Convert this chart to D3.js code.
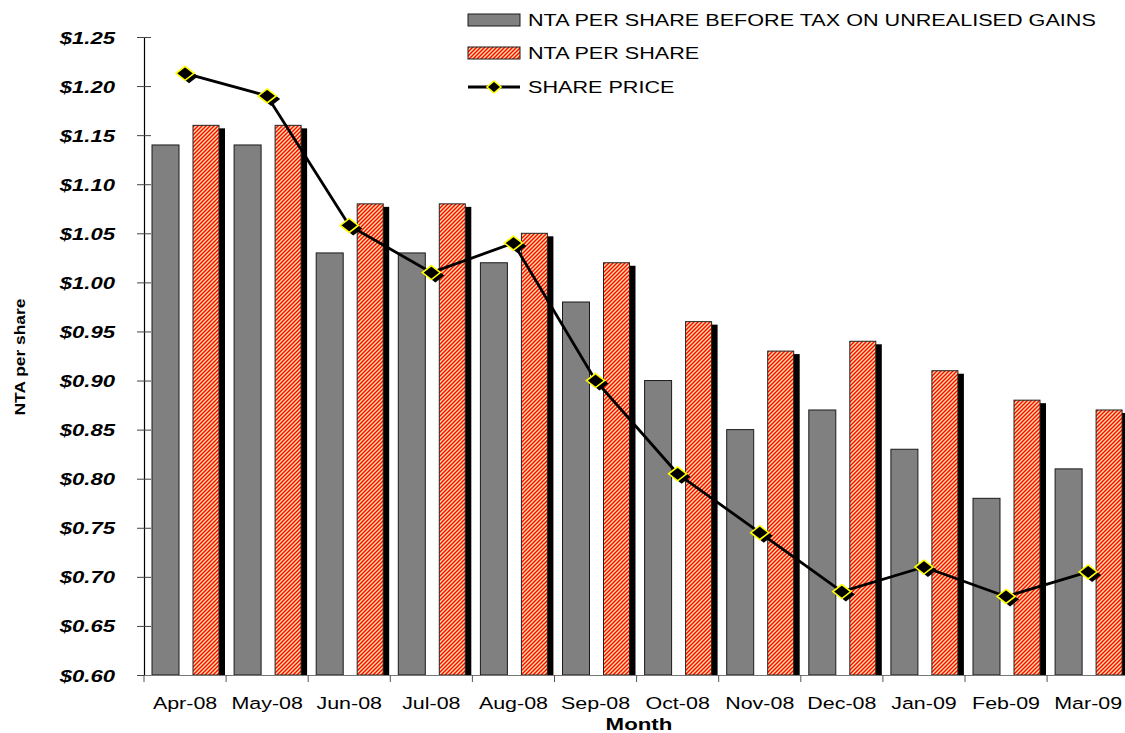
<!DOCTYPE html>
<html>
<head>
<meta charset="utf-8">
<script src="https://cdn.jsdelivr.net/npm/d3@7"></script>
<style>
  html, body { margin: 0; padding: 0; background: #fff; }
  svg { display: block; }
  text { font-family: "Liberation Sans", Arial, sans-serif; fill: #000; }
</style>
</head>
<body>
<svg id="chart" width="1125" height="733"></svg>
<script>
// ---- data ----
const months = ["Apr-08","May-08","Jun-08","Jul-08","Aug-08","Sep-08","Oct-08","Nov-08","Dec-08","Jan-09","Feb-09","Mar-09"];
const ntaBeforeTax = [1.14,1.14,1.03,1.03,1.02,0.98,0.90,0.85,0.87,0.83,0.78,0.81];
const ntaPerShare  = [1.16,1.16,1.08,1.08,1.05,1.02,0.96,0.93,0.94,0.91,0.88,0.87];
const sharePrice   = [1.213,1.19,1.058,1.01,1.04,0.90,0.805,0.745,0.685,0.71,0.68,0.705];
const yTicks = [0.60,0.65,0.70,0.75,0.80,0.85,0.90,0.95,1.00,1.05,1.10,1.15,1.20,1.25];
const seriesNames = ["NTA PER SHARE BEFORE TAX ON UNREALISED GAINS","NTA PER SHARE","SHARE PRICE"];
const xTitle = "Month";
const yTitle = "NTA per share";

// ---- layout ----
const svg = d3.select("#chart");
const plotLeft = 144, plotTop = 37, plotBottom = 675, step = 82.1;
const plotRight = plotLeft + step * months.length;

const x = d3.scaleBand().domain(months).range([plotLeft, plotRight]).paddingInner(0).paddingOuter(0);
const y = d3.scaleLinear().domain([0.60, 1.25]).range([plotBottom, plotTop]);

// pattern for red striped bars
const defs = svg.append("defs");
const pat = defs.append("pattern").attr("id", "stripes")
  .attr("patternUnits", "userSpaceOnUse").attr("width", 4).attr("height", 4);
pat.append("rect").attr("width", 4).attr("height", 4).attr("fill", "#ffe4a8");
pat.append("path").attr("d", "M-1,1 L1,-1 M0,4 L4,0 M3,5 L5,3")
  .attr("stroke", "#ff0a00").attr("stroke-width", 1.5);

// ---- bars ----
const grayOff = 8, grayW = 27, redOff = 49, redW = 26;
svg.append("g").selectAll("rect").data(months).join("rect")
  .attr("x", d => x(d) + grayOff)
  .attr("y", (d, i) => y(ntaBeforeTax[i]))
  .attr("width", grayW)
  .attr("height", (d, i) => y(0.60) - y(ntaBeforeTax[i]))
  .attr("fill", "#808080").attr("stroke", "#1a1a1a").attr("stroke-width", 1);

// shadows of red bars
svg.append("g").selectAll("rect").data(months).join("rect")
  .attr("x", d => x(d) + redOff + 6)
  .attr("y", (d, i) => y(ntaPerShare[i]) + 3)
  .attr("width", redW)
  .attr("height", (d, i) => y(0.60) - y(ntaPerShare[i]) - 3)
  .attr("fill", "#000");

svg.append("g").selectAll("rect").data(months).join("rect")
  .attr("x", d => x(d) + redOff)
  .attr("y", (d, i) => y(ntaPerShare[i]))
  .attr("width", redW)
  .attr("height", (d, i) => y(0.60) - y(ntaPerShare[i]))
  .attr("fill", "url(#stripes)").attr("stroke", "#222").attr("stroke-width", 1);

// ---- axes ----
const yAxis = svg.append("g").attr("transform", `translate(${plotLeft},0)`)
  .call(d3.axisLeft(y).tickValues(yTicks).tickFormat(d3.format("$.2f")).tickSizeOuter(0));
yAxis.select(".domain").attr("stroke", "#000").attr("stroke-width", 1.2);
yAxis.selectAll(".tick line").attr("x1", 7).attr("x2", -7).attr("stroke", "#444");
yAxis.selectAll(".tick text")
  .attr("x", null).attr("dy", null)
  .attr("transform", "translate(-29,6) scale(1.34,1)")
  .attr("text-anchor", "end").attr("fill", "#000")
  .style("font-size", "16.5px").style("font-weight", "bold").style("font-style", "italic");

const xAxis = svg.append("g").attr("transform", `translate(0,${plotBottom})`)
  .call(d3.axisBottom(x).tickSize(0).tickSizeOuter(0));
xAxis.select(".domain").attr("stroke", "#777").attr("stroke-width", 1.2);
xAxis.selectAll(".tick text")
  .attr("y", null).attr("dy", null)
  .attr("transform", "translate(0,34) scale(1.3,1)")
  .attr("text-anchor", "middle").attr("fill", "#000")
  .style("font-size", "16.5px");
// category boundary ticks
svg.append("g").selectAll("line").data(months).join("line")
  .attr("x1", d => x(d)).attr("x2", d => x(d))
  .attr("y1", plotBottom).attr("y2", plotBottom + 7)
  .attr("stroke", "#555").attr("stroke-width", 1);

// axis titles
svg.append("text").attr("transform", `translate(639,730) scale(1.35,1)`)
  .attr("text-anchor", "middle").style("font-size", "16.5px").style("font-weight", "bold")
  .text(xTitle);
svg.append("text").attr("transform", `translate(25,357) rotate(-90) scale(1.2,1)`)
  .attr("text-anchor", "middle").style("font-size", "14.5px").style("font-weight", "bold")
  .text(yTitle);

// ---- share price line ----
const cx = (i) => x(months[i]) + x.bandwidth() / 2;
const line = d3.line().x((d, i) => cx(i)).y(d => y(d));
svg.append("path").datum(sharePrice).attr("d", line)
  .attr("fill", "none").attr("stroke", "#000").attr("stroke-width", 2.8)
  .attr("stroke-linejoin", "round");

const diamond = (hw, hh) => `M0,${-hh} L${hw},0 L0,${hh} L${-hw},0 Z`;
svg.append("g").selectAll("path").data(sharePrice).join("path")
  .attr("transform", (d, i) => `translate(${cx(i) + 4},${y(d) + 3})`)
  .attr("d", diamond(9, 7)).attr("fill", "#000");
svg.append("g").selectAll("path").data(sharePrice).join("path")
  .attr("transform", (d, i) => `translate(${cx(i)},${y(d)})`)
  .attr("d", diamond(9, 7)).attr("fill", "#000")
  .attr("stroke", "#ffff00").attr("stroke-width", 1.6);

// ---- legend ----
const lg = svg.append("g");
const lx = 468, lw = 52, tx = 528;
const rowY = [20, 53, 87];
lg.append("rect").attr("x", lx).attr("y", rowY[0] - 6).attr("width", lw).attr("height", 12)
  .attr("fill", "#808080").attr("stroke", "#1a1a1a");
lg.append("rect").attr("x", lx).attr("y", rowY[1] - 6).attr("width", lw).attr("height", 12)
  .attr("fill", "url(#stripes)").attr("stroke", "#1a1a1a");
lg.append("line").attr("x1", lx).attr("x2", lx + lw).attr("y1", rowY[2]).attr("y2", rowY[2])
  .attr("stroke", "#000").attr("stroke-width", 2.8);
lg.append("path").attr("transform", `translate(${lx + lw / 2},${rowY[2]})`)
  .attr("d", diamond(7, 6)).attr("fill", "#000").attr("stroke", "#ffff00").attr("stroke-width", 1.6);
lg.selectAll("text.leg").data(seriesNames).join("text").attr("class", "leg")
  .attr("transform", (d, i) => `translate(${tx},${rowY[i] + 6}) scale(1.31,1)`)
  .style("font-size", "16.5px")
  .text(d => d);
</script>
</body>
</html>
